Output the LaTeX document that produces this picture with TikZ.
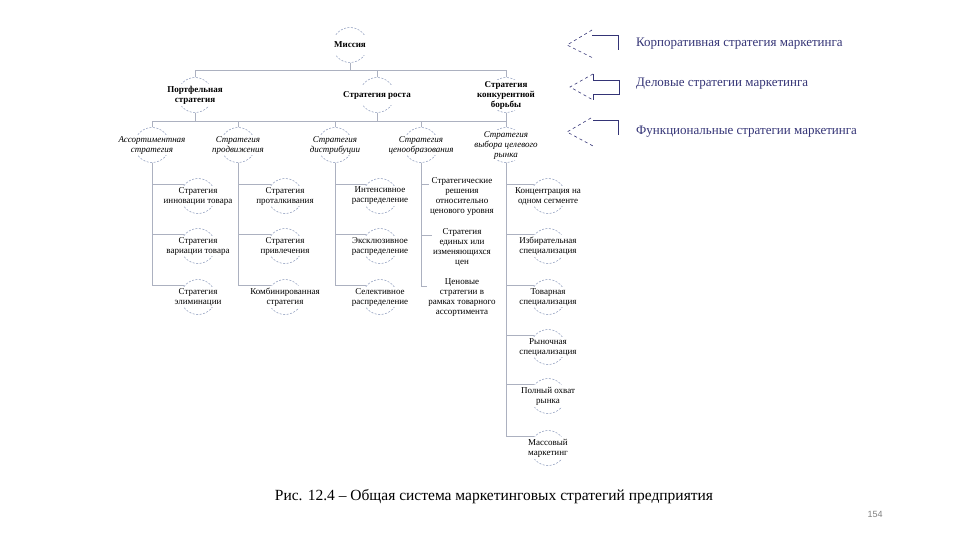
\documentclass[tikz,border=0pt]{standalone}
\usepackage{fontspec}
\setmainfont{Liberation Serif}
\newfontfamily\pagefont{Liberation Sans}
\usetikzlibrary{backgrounds}

\definecolor{ringcol}{RGB}{135,150,185}
\definecolor{linkcol}{RGB}{172,177,192}
\definecolor{levelcol}{RGB}{52,52,118}

\begin{document}
\begin{tikzpicture}[x=1pt, y=-1pt,
    ring/.style={circle, draw=ringcol, dash pattern=on 2pt off 1.5pt, line width=0.5pt,
      minimum size=35pt, inner sep=0pt},
    lbl/.style={fill=white, align=center, inner sep=1.5pt, minimum height=20pt, minimum width=38pt},
    link/.style={draw=linkcol, line width=0.5pt}]
    \tikzstyle{mainlbl} = [lbl, font=\fontsize{9}{10}\selectfont\bfseries]
    \tikzstyle{funclbl} = [lbl, font=\fontsize{9}{10}\selectfont\itshape]
    \tikzstyle{leaflbl} = [lbl, font=\fontsize{9}{10}\selectfont]
    \tikzstyle{levelarrow} = [draw=levelcol, line width=0.6pt]
    \tikzstyle{levellbl} = [anchor=west, inner sep=0pt, text=levelcol, font=\fontsize{13}{15}\selectfont]
    \useasboundingbox (0,0) rectangle (960,540);

    % rings
    \node[ring] (mis) at (350,45) {};
    \node[ring] (port) at (195,95) {};
    \node[ring] (rost) at (377,95) {};
    \node[ring] (konk) at (506,95) {};
    \node[ring] (asrt) at (152,145) {};
    \node[ring] (prod) at (238,145) {};
    \node[ring] (distr) at (335,145) {};
    \node[ring] (cen) at (421,145) {};
    \node[ring] (seg) at (506,145) {};
    \node[ring] (asrt1) at (198,196) {};
    \node[ring] (asrt2) at (198,246) {};
    \node[ring] (asrt3) at (198,297) {};
    \node[ring] (prod1) at (285,196) {};
    \node[ring] (prod2) at (285,246) {};
    \node[ring] (prod3) at (285,297) {};
    \node[ring] (distr1) at (380,196) {};
    \node[ring] (distr2) at (380,246) {};
    \node[ring] (distr3) at (380,297) {};
    \node[ring] (cen1) at (462,196) {};
    \node[ring] (cen2) at (462,247) {};
    \node[ring] (cen3) at (462,298) {};
    \node[ring] (seg1) at (548,196) {};
    \node[ring] (seg2) at (548,246) {};
    \node[ring] (seg3) at (548,297) {};
    \node[ring] (seg4) at (548,347) {};
    \node[ring] (seg5) at (548,396) {};
    \node[ring] (seg6) at (548,448) {};

    % connectors
    \begin{scope}[on background layer]
      \coordinate (bus1) at (0,70);
      \coordinate (bus2) at (0,121);
      \draw[link] (mis.south) -- (mis.south |- bus1);
      \draw[link] (port.north) -- (port.north |- bus1) -| (konk.north);
      \draw[link] (rost.north) -- (rost.north |- bus1);
      \draw[link] (port.south) -- (port.south |- bus2);
      \draw[link] (rost.south) -- (rost.south |- bus2);
      \draw[link] (konk.south) -- (konk.south |- bus2);
      \draw[link] (asrt.north) -- (asrt.north |- bus2) -| (seg.north);
      \draw[link] (prod.north) -- (prod.north |- bus2);
      \draw[link] (distr.north) -- (distr.north |- bus2);
      \draw[link] (cen.north) -- (cen.north |- bus2);
      \draw[link] (asrt.south) |- (asrt1.140);
      \draw[link] (asrt.south) |- (asrt2.140);
      \draw[link] (asrt.south) |- (asrt3.140);
      \draw[link] (prod.south) |- (prod1.140);
      \draw[link] (prod.south) |- (prod2.140);
      \draw[link] (prod.south) |- (prod3.140);
      \draw[link] (distr.south) |- (distr1.140);
      \draw[link] (distr.south) |- (distr2.140);
      \draw[link] (distr.south) |- (distr3.140);
      \draw[link] (cen.south) |- (cen1.140);
      \draw[link] (cen.south) |- (cen2.140);
      \draw[link] (cen.south) |- (cen3.140);
      \draw[link] (seg.south) |- (seg1.140);
      \draw[link] (seg.south) |- (seg2.140);
      \draw[link] (seg.south) |- (seg3.140);
      \draw[link] (seg.south) |- (seg4.140);
      \draw[link] (seg.south) |- (seg5.140);
      \draw[link] (seg.south) |- (seg6.140);
    \end{scope}

    % texts
    \node[mainlbl] (mis-t) at (mis) {Миссия};
    \node[mainlbl] (port-t) at (port) {Портфельная\\стратегия};
    \node[mainlbl] (rost-t) at (rost) {Стратегия роста};
    \node[mainlbl] (konk-t) at (konk) {Стратегия\\конкурентной\\борьбы};
    \node[funclbl] (asrt-t) at (asrt) {Ассортиментная\\стратегия};
    \node[funclbl] (prod-t) at (prod) {Стратегия\\продвижения};
    \node[funclbl] (distr-t) at (distr) {Стратегия\\дистрибуции};
    \node[funclbl] (cen-t) at (cen) {Стратегия\\ценообразования};
    \node[funclbl] (seg-t) at (seg) {Стратегия\\выбора целевого\\рынка};
    \node[leaflbl] (asrt1-t) at (asrt1) {Стратегия\\инновации товара};
    \node[leaflbl] (asrt2-t) at (asrt2) {Стратегия\\вариации товара};
    \node[leaflbl] (asrt3-t) at (asrt3) {Стратегия\\элиминации};
    \node[leaflbl] (prod1-t) at (prod1) {Стратегия\\проталкивания};
    \node[leaflbl] (prod2-t) at (prod2) {Стратегия\\привлечения};
    \node[leaflbl] (prod3-t) at (prod3) {Комбинированная\\стратегия};
    \node[leaflbl] (distr1-t) at (distr1) {Интенсивное\\распределение};
    \node[leaflbl] (distr2-t) at (distr2) {Эксклюзивное\\распределение};
    \node[leaflbl] (distr3-t) at (distr3) {Селективное\\распределение};
    \node[leaflbl] (cen1-t) at (cen1) {Стратегические\\решения\\относительно\\ценового уровня};
    \node[leaflbl] (cen2-t) at (cen2) {Стратегия\\единых или\\изменяющихся\\цен};
    \node[leaflbl] (cen3-t) at (cen3) {Ценовые\\стратегии в\\рамках товарного\\ассортимента};
    \node[leaflbl] (seg1-t) at (seg1) {Концентрация на\\одном сегменте};
    \node[leaflbl] (seg2-t) at (seg2) {Избирательная\\специализация};
    \node[leaflbl] (seg3-t) at (seg3) {Товарная\\специализация};
    \node[leaflbl] (seg4-t) at (seg4) {Рыночная\\специализация};
    \node[leaflbl] (seg5-t) at (seg5) {Полный охват\\рынка};
    \node[leaflbl] (seg6-t) at (seg6) {Массовый\\маркетинг};

    % levels
    \draw[levelarrow, dashed] (592,30) -- (567,45) -- (593,58);
    \draw[levelarrow] (592,35) -- (618,35) -- (618,50);
    \node[levellbl] (corp) at (636,44) {Корпоративная стратегия маркетинга};
    \draw[levelarrow, dashed] (593,74) -- (570,87) -- (593,100);
    \draw[levelarrow] (593,74) -- (593,80) -- (619,80) -- (619,94) -- (593,94) -- (593,100);
    \node[levellbl] (busn) at (636,84) {Деловые стратегии маркетинга};
    \draw[levelarrow, dashed] (591,118) -- (567,132) -- (593,146);
    \draw[levelarrow] (593,120) -- (618,120) -- (618,135);
    \node[levellbl] (func) at (636,132) {Функциональные стратегии маркетинга};

    \node[font=\rmfamily\fontsize{15.5}{18}\selectfont] (caption) at (494,497)
      {Рис. 12.4 – Общая система маркетинговых стратегий предприятия};
    \node[font=\pagefont\fontsize{9}{11}\selectfont, text=black!50] (page) at (875,514) {154};
\end{tikzpicture}
\end{document}
